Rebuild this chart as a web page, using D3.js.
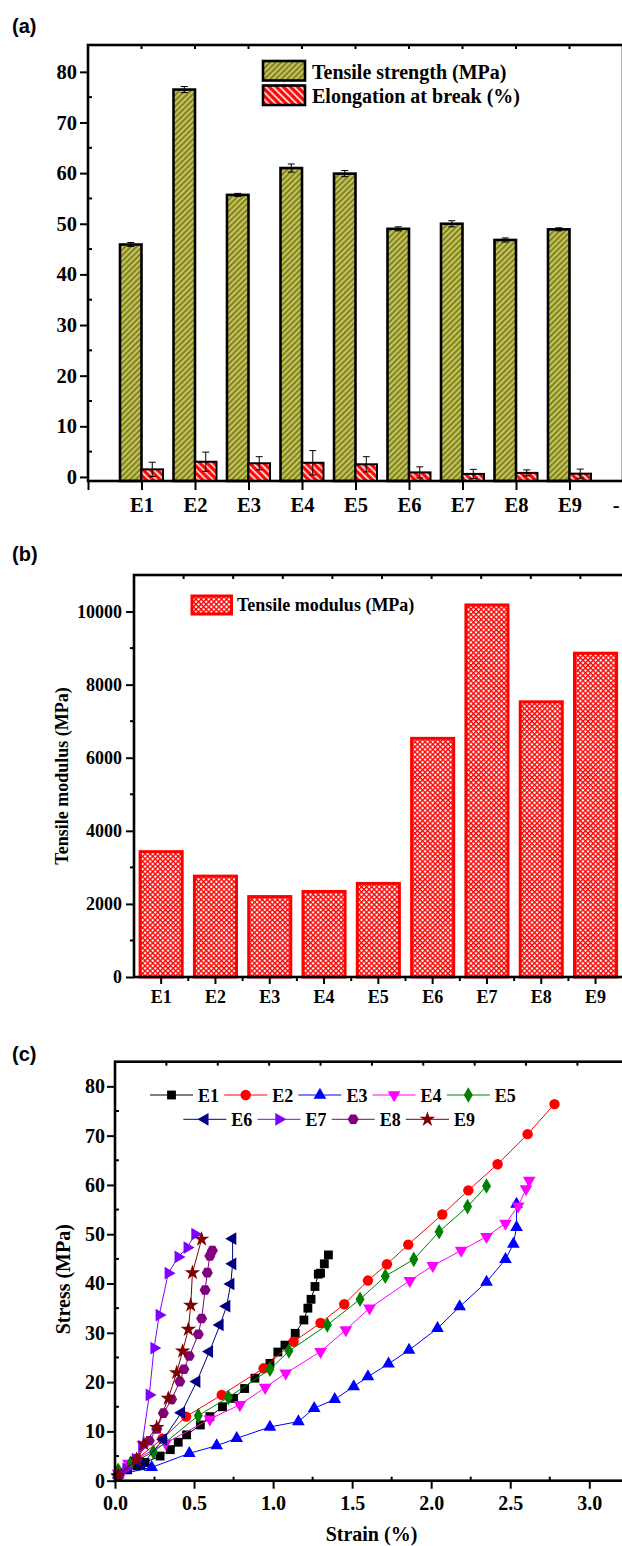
<!DOCTYPE html>
<html>
<head>
<meta charset="utf-8">
<script src="https://cdn.jsdelivr.net/npm/d3@7"></script>
<style>
  body { margin: 0; background: #fff; }
  .serif { font-family: "Liberation Serif", "Times New Roman", serif; font-weight: bold; fill: #000; }
  .panel { font-family: "Liberation Sans", Arial, sans-serif; font-weight: bold; font-size: 20px; fill: #000; }
</style>
</head>
<body>
<div id="chart"></div>
<script>
// ----------------------------------------------------------
// Datos
// ----------------------------------------------------------
const samples = ["E1", "E2", "E3", "E4", "E5", "E6", "E7", "E8", "E9"];
const xLabelsA = ["", "E1", "E2", "E3", "E4", "E5", "E6", "E7", "E8", "E9", "-"];

const tensileStrength    = [45.9, 76.5, 55.7, 61.0, 59.9, 49.0, 50.0, 46.8, 48.9];
const tensileStrengthErr = [0.4, 0.6, 0.3, 0.8, 0.6, 0.4, 0.6, 0.4, 0.3];
const elongation         = [1.5, 3.0, 2.7, 2.8, 2.5, 0.9, 0.6, 0.8, 0.65];
const elongationErr      = [1.4, 1.9, 1.3, 2.4, 1.5, 1.1, 0.9, 0.6, 0.9];

const tensileModulus = [3430, 2760, 2200, 2340, 2560, 6530, 10180, 7530, 8860];

// curvas tension-deformacion [strain %, stress MPa]
const curveE1 = [[0.02,1.2],[0.08,2.2],[0.14,3.0],[0.19,3.7],[0.285,5.0],[0.35,6.3],[0.40,7.8],[0.453,9.3],[0.54,11.3],[0.60,13.0],[0.68,15.0],[0.75,16.7],[0.82,18.7],[0.885,20.8],[0.98,23.8],[1.03,26.1],[1.075,27.5],[1.14,29.9],[1.195,32.6],[1.22,35.0],[1.24,36.8],[1.265,39.4],[1.286,41.9],[1.30,42.1],[1.324,44.0],[1.35,45.8]];
const curveE2 = [[0.02,1.0],[0.14,4.5],[0.30,8.5],[0.45,13.0],[0.675,17.4],[0.94,22.8],[1.13,28.2],[1.30,32.0],[1.45,35.8],[1.60,40.6],[1.72,43.9],[1.855,47.9],[2.07,54.0],[2.235,58.9],[2.42,64.2],[2.61,70.3],[2.78,76.4]];
const curveE3 = [[0.02,1.2],[0.232,2.7],[0.47,5.55],[0.643,7.1],[0.77,8.6],[0.98,10.9],[1.16,12.0],[1.26,14.7],[1.39,16.5],[1.51,19.1],[1.60,21.1],[1.73,23.7],[1.86,26.5],[2.04,30.9],[2.18,35.3],[2.35,40.3],[2.47,44.9],[2.52,48.0],[2.54,51.4],[2.54,56.1]];
const curveE4 = [[0.02,1.5],[0.085,3.5],[0.32,7.6],[0.60,12.5],[0.79,15.4],[0.95,18.9],[1.08,21.8],[1.30,26.2],[1.46,30.6],[1.61,35.0],[1.865,40.6],[2.01,43.6],[2.19,46.7],[2.35,49.5],[2.47,52.2],[2.55,55.7],[2.60,59.2],[2.62,60.9]];
const curveE5 = [[0.02,2.1],[0.10,3.6],[0.243,5.8],[0.527,13.2],[0.717,16.9],[0.98,22.6],[1.10,26.3],[1.343,31.6],[1.55,36.8],[1.71,41.5],[1.89,44.9],[2.05,50.5],[2.23,55.6],[2.35,59.8]];
const curveE6 = [[0.02,1.2],[0.169,3.2],[0.306,8.4],[0.42,13.8],[0.517,20.1],[0.597,26.2],[0.664,31.6],[0.706,35.4],[0.732,39.9],[0.744,44.0],[0.744,49.1]];
const curveE7 = [[0.02,1.0],[0.07,2.4],[0.13,4.4],[0.17,7.0],[0.217,17.4],[0.247,26.9],[0.28,33.6],[0.337,42.1],[0.40,45.4],[0.457,47.3],[0.506,50.0]];
const curveE8 = [[0.02,1.3],[0.137,4.4],[0.217,8.1],[0.264,10.5],[0.306,13.7],[0.358,16.5],[0.41,20.1],[0.436,22.6],[0.47,25.3],[0.527,29.7],[0.548,32.9],[0.57,38.7],[0.584,42.2],[0.60,45.6],[0.616,46.7]];
const curveE9 = [[0.02,1.0],[0.137,4.3],[0.183,7.45],[0.264,10.8],[0.337,16.7],[0.39,21.9],[0.428,26.3],[0.464,30.7],[0.479,35.6],[0.49,42.2],[0.548,49.0]];

const curves = [curveE1, curveE2, curveE3, curveE4, curveE5, curveE6, curveE7, curveE8, curveE9];
const curveColors = ["#000000", "#ff0000", "#0000ff", "#ff00ff", "#008000", "#000080", "#8000ff", "#800080", "#800000"];

// ----------------------------------------------------------
// SVG + patrones
// ----------------------------------------------------------
const width = 622;
const height = 1546;

const svg = d3.select("#chart").append("svg")
    .attr("width", width)
    .attr("height", height);

const defs = svg.append("defs");

const olive = defs.append("pattern").attr("id", "olive")
    .attr("patternUnits", "userSpaceOnUse").attr("width", 4).attr("height", 4)
    .attr("patternTransform", "rotate(45)");
olive.append("rect").attr("width", 4).attr("height", 4).attr("fill", "#86860e");
olive.append("line").attr("x1", 1).attr("x2", 1).attr("y1", 0).attr("y2", 4)
    .attr("stroke", "#f2f2c8").attr("stroke-width", 1.1);

const redHatch = defs.append("pattern").attr("id", "redHatch")
    .attr("patternUnits", "userSpaceOnUse").attr("width", 5).attr("height", 5)
    .attr("patternTransform", "rotate(-45)");
redHatch.append("rect").attr("width", 5).attr("height", 5).attr("fill", "#ff0000");
redHatch.append("line").attr("x1", 1.5).attr("x2", 1.5).attr("y1", 0).attr("y2", 5)
    .attr("stroke", "#ffffff").attr("stroke-width", 1.6);

const cross = defs.append("pattern").attr("id", "cross")
    .attr("patternUnits", "userSpaceOnUse").attr("width", 3.6).attr("height", 3.6)
    .attr("patternTransform", "rotate(45)");
cross.append("rect").attr("width", 3.6).attr("height", 3.6).attr("fill", "#ffffff");
cross.append("line").attr("x1", 0).attr("x2", 3.6).attr("y1", 0.6).attr("y2", 0.6)
    .attr("stroke", "#ff0000").attr("stroke-width", 1.6);
cross.append("line").attr("x1", 0.6).attr("x2", 0.6).attr("y1", 0).attr("y2", 3.6)
    .attr("stroke", "#ff0000").attr("stroke-width", 1.6);

// estilo comun de ejes
function styleAxis(g, size) {
    g.select(".domain").remove();
    g.selectAll(".tick line").attr("stroke", "#000").attr("stroke-width", 2);
    g.selectAll("text").attr("class", "serif").style("font-size", size + "px").attr("fill", "#000");
}

function minorTicks(g, values, fn) {
    g.selectAll(null).data(values).enter().append("line")
        .attr("stroke", "#000").attr("stroke-width", 2)
        .each(function(d) { fn(d3.select(this), d); });
}

// ----------------------------------------------------------
// (a) resistencia y elongacion
// ----------------------------------------------------------
const gA = svg.append("g");
gA.append("text").attr("class", "panel").attr("x", 12).attr("y", 33).text("(a)");

const xA = d3.scaleLinear().domain([0, 10]).range([88, 623]);
const yA = d3.scaleLinear().domain([-0.8, 85.3]).range([481, 45]);
const bwA = 21.5;

gA.selectAll(".ts").data(tensileStrength).enter().append("rect")
    .attr("x", (d, i) => xA(i + 1) - bwA)
    .attr("y", d => yA(d))
    .attr("width", bwA)
    .attr("height", d => yA(-0.8) - yA(d))
    .attr("fill", "url(#olive)").attr("stroke", "#000").attr("stroke-width", 2.6);

gA.selectAll(".el").data(elongation).enter().append("rect")
    .attr("x", (d, i) => xA(i + 1))
    .attr("y", d => yA(d))
    .attr("width", bwA)
    .attr("height", d => yA(-0.8) - yA(d))
    .attr("fill", "url(#redHatch)").attr("stroke", "#000").attr("stroke-width", 2);

function errorBars(g, vals, errs, cx) {
    vals.forEach((v, i) => {
        const x = cx(i);
        g.append("line").attr("x1", x).attr("x2", x).attr("y1", yA(v - errs[i])).attr("y2", yA(v + errs[i]))
            .attr("stroke", "#000").attr("stroke-width", 1);
        [v - errs[i], v + errs[i]].forEach(e => {
            g.append("line").attr("x1", x - 3.5).attr("x2", x + 3.5).attr("y1", yA(e)).attr("y2", yA(e))
                .attr("stroke", "#000").attr("stroke-width", 1);
        });
    });
}
errorBars(gA, tensileStrength, tensileStrengthErr, i => xA(i + 1) - bwA / 2);
errorBars(gA, elongation, elongationErr, i => xA(i + 1) + bwA / 2);

const yAxisA = gA.append("g").attr("transform", `translate(${xA(0)},0)`)
    .call(d3.axisLeft(yA).tickValues(d3.range(0, 81, 10)).tickSize(8).tickPadding(3));
styleAxis(yAxisA, 20.5);
minorTicks(gA, d3.range(5, 81, 10), (l, d) => l.attr("x1", xA(0)).attr("x2", xA(0) + 4).attr("y1", yA(d)).attr("y2", yA(d)));

const xAxisA = gA.append("g").attr("transform", `translate(0,${yA(-0.8)})`)
    .call(d3.axisBottom(xA).tickValues(d3.range(0, 11)).tickSize(9).tickPadding(7).tickFormat(i => xLabelsA[i]));
styleAxis(xAxisA, 20.5);
// la ultima etiqueta queda pegada al borde derecho
xAxisA.selectAll(".tick text").filter(i => i === 10).attr("text-anchor", "end").attr("dx", -4);
minorTicks(gA, d3.range(1, 10), (l, d) => l.attr("x1", xA(d)).attr("x2", xA(d)).attr("y1", yA(85.3)).attr("y2", yA(85.3) + 4));

gA.append("rect").attr("x", xA(0)).attr("y", yA(85.3)).attr("width", xA(10) - xA(0)).attr("height", yA(-0.8) - yA(85.3))
    .attr("fill", "none").attr("stroke", "#000").attr("stroke-width", 2.6);

// leyenda (a)
const legA = [["Tensile strength (MPa)", "url(#olive)"], ["Elongation at break (%)", "url(#redHatch)"]];
legA.forEach((l, i) => {
    gA.append("rect").attr("x", 263).attr("y", 61 + i * 24.5).attr("width", 42).attr("height", 19.5)
        .attr("fill", l[1]).attr("stroke", "#000").attr("stroke-width", 2.6);
    gA.append("text").attr("class", "serif").style("font-size", "20px")
        .attr("x", 312).attr("y", 78.5 + i * 24).text(l[0]);
});

// ----------------------------------------------------------
// (b) modulo
// ----------------------------------------------------------
const gB = svg.append("g");
gB.append("text").attr("class", "panel").attr("x", 12).attr("y", 561).text("(b)");

const xB = d3.scaleBand().domain(samples).range([134, 622.7]).paddingInner(0.17).paddingOuter(0.085);
const yB = d3.scaleLinear().domain([0, 11000]).range([977, 575]);
const xBTop = d3.scaleLinear().domain([0, 10]).range([134, 630]);

gB.selectAll(".mod").data(tensileModulus).enter().append("rect")
    .attr("x", (d, i) => xB(samples[i]) + 1.5)
    .attr("y", d => yB(d))
    .attr("width", xB.bandwidth() - 3)
    .attr("height", d => yB(0) - yB(d))
    .attr("fill", "url(#cross)").attr("stroke", "#ff0000").attr("stroke-width", 3);

const yAxisB = gB.append("g").attr("transform", "translate(134,0)")
    .call(d3.axisLeft(yB).tickValues(d3.range(0, 10001, 2000)).tickSize(8).tickPadding(4).tickFormat(d3.format("d")));
styleAxis(yAxisB, 18);
minorTicks(gB, d3.range(1000, 10001, 2000), (l, d) => l.attr("x1", 130).attr("x2", 134).attr("y1", yB(d)).attr("y2", yB(d)));

const xAxisB = gB.append("g").attr("transform", `translate(0,${yB(0)})`)
    .call(d3.axisBottom(xB).tickSize(7).tickPadding(6));
styleAxis(xAxisB, 18);
minorTicks(gB, samples.slice(1), (l, d) => l.attr("x1", xB(d) - xB.step() * 0.085).attr("x2", xB(d) - xB.step() * 0.085)
    .attr("y1", yB(0)).attr("y2", yB(0) + 4));
minorTicks(gB, d3.range(1, 10), (l, d) => l.attr("x1", xBTop(d)).attr("x2", xBTop(d)).attr("y1", yB(11000)).attr("y2", yB(11000) + 4));

gB.append("rect").attr("x", 134).attr("y", yB(11000)).attr("width", xBTop(10) - 134).attr("height", yB(0) - yB(11000))
    .attr("fill", "none").attr("stroke", "#000").attr("stroke-width", 2.6);

gB.append("text").attr("class", "serif").style("font-size", "18px")
    .attr("text-anchor", "middle")
    .attr("transform", `translate(68,${(yB(0) + yB(11000)) / 2}) rotate(-90)`)
    .text("Tensile modulus (MPa)");

gB.append("rect").attr("x", 192).attr("y", 596).attr("width", 39.5).attr("height", 18)
    .attr("fill", "url(#cross)").attr("stroke", "#ff0000").attr("stroke-width", 3);
gB.append("text").attr("class", "serif").style("font-size", "18px")
    .attr("x", 237).attr("y", 611).text("Tensile modulus (MPa)");

// ----------------------------------------------------------
// (c) curvas tension-deformacion
// ----------------------------------------------------------
const gC = svg.append("g");
gC.append("text").attr("class", "panel").attr("x", 12).attr("y", 1061).text("(c)");

const xC = d3.scaleLinear().domain([0, 3.25]).range([115, 628.8]);
const yC = d3.scaleLinear().domain([0, 85]).range([1480.7, 1061.7]);
const xCTop = d3.scaleLinear().domain([0, 10]).range([115, 628.8]);

const hexagon = {
    draw(ctx, size) {
        const r = Math.sqrt(size / 2.598);
        for (let k = 0; k < 6; k++) {
            const a = Math.PI / 3 * k;
            if (k === 0) ctx.moveTo(r * Math.cos(a), r * Math.sin(a));
            else ctx.lineTo(r * Math.cos(a), r * Math.sin(a));
        }
        ctx.closePath();
    }
};
const markers = [
    { type: d3.symbolSquare, size: 78, rot: 0 },
    { type: d3.symbolCircle, size: 85, rot: 0 },
    { type: d3.symbolTriangle, size: 70, rot: 0 },
    { type: d3.symbolTriangle, size: 70, rot: 180 },
    { type: d3.symbolDiamond, size: 70, rot: 0 },
    { type: d3.symbolTriangle, size: 70, rot: -90 },
    { type: d3.symbolTriangle, size: 70, rot: 90 },
    { type: hexagon, size: 80, rot: 0 },
    { type: d3.symbolStar, size: 75, rot: 0 }
];

const line = d3.line().x(d => xC(d[0])).y(d => yC(d[1]));

curves.forEach((c, k) => {
    gC.append("path").datum(c).attr("d", line)
        .attr("fill", "none").attr("stroke", curveColors[k]).attr("stroke-width", 1);
    gC.selectAll(null).data(c).enter().append("path")
        .attr("d", d3.symbol(markers[k].type, markers[k].size))
        .attr("transform", d => `translate(${xC(d[0])},${yC(d[1])}) rotate(${markers[k].rot})`)
        .attr("fill", curveColors[k]);
});

const yAxisC = gC.append("g").attr("transform", "translate(115,0)")
    .call(d3.axisLeft(yC).tickValues(d3.range(0, 81, 10)).tickSize(8).tickPadding(2));
styleAxis(yAxisC, 20);
minorTicks(gC, d3.range(5, 81, 10), (l, d) => l.attr("x1", 115).attr("x2", 119).attr("y1", yC(d)).attr("y2", yC(d)));

const xAxisC = gC.append("g").attr("transform", `translate(0,${yC(0)})`)
    .call(d3.axisBottom(xC).tickValues(d3.range(0, 3.01, 0.5)).tickSize(8).tickPadding(7).tickFormat(d3.format(".1f")));
styleAxis(xAxisC, 20);
minorTicks(gC, d3.range(0.25, 3.3, 0.5), (l, d) => l.attr("x1", xC(d)).attr("x2", xC(d)).attr("y1", yC(0)).attr("y2", yC(0) - 4));
minorTicks(gC, d3.range(1, 10), (l, d) => l.attr("x1", xCTop(d)).attr("x2", xCTop(d)).attr("y1", yC(85)).attr("y2", yC(85) + 4));

gC.append("rect").attr("x", 115).attr("y", yC(85)).attr("width", xCTop(10) - 115).attr("height", yC(0) - yC(85))
    .attr("fill", "none").attr("stroke", "#000").attr("stroke-width", 2.6);

gC.append("text").attr("class", "serif").style("font-size", "20px")
    .attr("text-anchor", "middle")
    .attr("transform", `translate(70,${(yC(0) + yC(85)) / 2 + 8}) rotate(-90)`)
    .text("Stress (MPa)");
gC.append("text").attr("class", "serif").style("font-size", "20px")
    .attr("text-anchor", "middle").attr("x", 371.5).attr("y", 1541)
    .text("Strain (%)");

// leyenda (c): 5 en la primera fila, 4 en la segunda
samples.forEach((s, k) => {
    const row = k < 5 ? 0 : 1;
    const col = k < 5 ? k : k - 5;
    const x0 = (row === 0 ? 150 : 183.3) + col * 74.2;
    const y0 = row === 0 ? 1095 : 1119.3;
    gC.append("line").attr("x1", x0).attr("x2", x0 + 43).attr("y1", y0).attr("y2", y0)
        .attr("stroke", curveColors[k]).attr("stroke-width", 1);
    gC.append("path").attr("d", d3.symbol(markers[k].type, markers[k].size))
        .attr("transform", `translate(${x0 + 21.5},${y0}) rotate(${markers[k].rot})`)
        .attr("fill", curveColors[k]);
    gC.append("text").attr("class", "serif").style("font-size", "18px")
        .attr("x", x0 + 48).attr("y", y0 + 6.5).text(s);
});
</script>
</body>
</html>
